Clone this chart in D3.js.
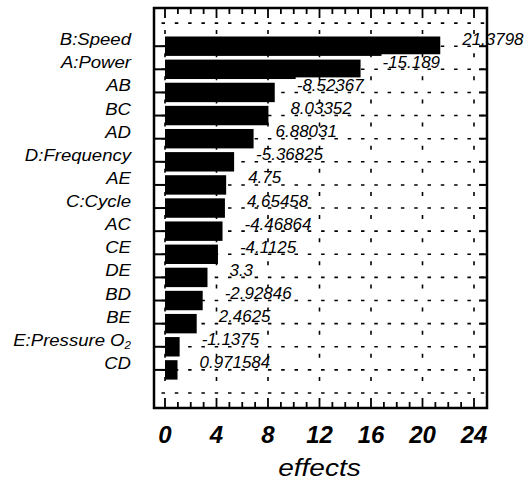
<!DOCTYPE html>
<html>
<head>
<meta charset="utf-8">
<script src="https://cdn.jsdelivr.net/npm/d3@7"></script>
<style>
  body { margin: 0; background: #fff; }
  text { font-family: Arial, "Liberation Sans", sans-serif; }
</style>
</head>
<body>
<div id="chart"></div>
<script>
// factors, top to bottom, and their standardized effects
var factors = ["B:Speed", "A:Power", "AB", "BC", "AD", "D:Frequency", "AE", "C:Cycle",
               "AC", "CE", "DE", "BD", "BE", "E:Pressure O₂", "CD"];
var effects = [21.3798, -15.189, -8.52367, 8.03352, 6.88031, -5.36825, 4.75, 4.65458,
               -4.46864, -4.1125, 3.3, -2.92846, 2.4625, -1.1375, 0.971584];
var xTicks = [0, 4, 8, 12, 16, 20, 24];
var xTitle = "effects";

var width = 528,
    height = 483,
    frame = {left: 154, right: 487, top: 8, bottom: 408};

var svg = d3.select("#chart").append("svg")
    .attr("width", width)
    .attr("height", height);

var x = d3.scaleLinear()
    .domain([0, 24])
    .range([165, 474]);

var y = d3.scalePoint()
    .domain(factors)
    .range([46.2, 369.9]);

var step = y.step(),
    barH = step * 0.84,
    yTop = y(factors[0]) - step,
    yBot = y(factors[factors.length - 1]) + step;

// stretched text helper (the original figure is wider than its fonts)
function label(g, px, py, sx, str) {
  return g.append("g")
      .attr("transform", "translate(" + px + "," + py + ") scale(" + sx + ",1)")
    .append("text")
      .text(str);
}

// bars
svg.append("g").selectAll("rect")
    .data(factors)
  .enter().append("rect")
    .attr("x", x(0))
    .attr("y", function(d) { return y(d) - barH / 2; })
    .attr("width", function(d, i) { return x(Math.abs(effects[i])) - x(0); })
    .attr("height", barH)
    .attr("fill", "#000");

// value labels with white boxes
var vals = svg.append("g");
factors.forEach(function(d, i) {
  var t = label(vals, x(Math.abs(effects[i])) + 22, y(d) - 1.5, 1.06, String(effects[i]))
      .attr("font-size", 16)
      .attr("font-style", "italic");
  var bb = t.node().getBBox();
  d3.select(t.node().parentNode).insert("rect", "text")
      .attr("x", bb.x - 1)
      .attr("y", bb.y + 1)
      .attr("width", bb.width + 2)
      .attr("height", bb.height - 1)
      .attr("fill", "#fff");
});

// dashed grid
var grid = svg.append("g")
    .attr("stroke", "#000")
    .attr("stroke-width", 1.6)
    .attr("fill", "none");

grid.selectAll(".h")
    .data([yTop].concat(factors.map(function(d) { return y(d); }), [yBot]))
  .enter().append("line")
    .attr("x1", frame.left)
    .attr("x2", frame.right)
    .attr("y1", function(d) { return d; })
    .attr("y2", function(d) { return d; })
    .attr("stroke-dasharray", "3.5,9.8")
    .attr("stroke-dashoffset", -7.5);

grid.selectAll(".v")
    .data(xTicks)
  .enter().append("line")
    .attr("x1", function(d) { return x(d); })
    .attr("x2", function(d) { return x(d); })
    .attr("y1", yTop)
    .attr("y2", yBot)
    .attr("stroke-dasharray", "4," + (step - 4))
    .attr("stroke-dashoffset", -7);

// frame and inward ticks
var axes = svg.append("g")
    .attr("stroke", "#000")
    .attr("fill", "none");

axes.append("rect")
    .attr("x", frame.left)
    .attr("y", frame.top)
    .attr("width", frame.right - frame.left)
    .attr("height", frame.bottom - frame.top)
    .attr("stroke-width", 2.5);

var minor = d3.range(0, 25, 1);
axes.selectAll(".tt")
    .data(minor)
  .enter().append("line")
    .attr("x1", function(d) { return x(d); })
    .attr("x2", function(d) { return x(d); })
    .attr("y1", frame.top)
    .attr("y2", function(d) { return frame.top + (d % 4 === 0 ? 10 : 6); })
    .attr("stroke-width", 1.8);

axes.selectAll(".tb")
    .data(minor)
  .enter().append("line")
    .attr("x1", function(d) { return x(d); })
    .attr("x2", function(d) { return x(d); })
    .attr("y1", frame.bottom)
    .attr("y2", function(d) { return frame.bottom - (d % 4 === 0 ? 10 : 6); })
    .attr("stroke-width", 1.8);

axes.selectAll(".tl")
    .data(factors)
  .enter().append("line")
    .attr("x1", frame.left)
    .attr("x2", x(0))
    .attr("y1", function(d) { return y(d); })
    .attr("y2", function(d) { return y(d); })
    .attr("stroke-width", 2);

axes.selectAll(".tr")
    .data(factors)
  .enter().append("line")
    .attr("x1", frame.right)
    .attr("x2", frame.right - 8)
    .attr("y1", function(d) { return y(d); })
    .attr("y2", function(d) { return y(d); })
    .attr("stroke-width", 2);

// category labels
var cats = svg.append("g");
factors.forEach(function(d) {
  var t = label(cats, 131, y(d) - 1, 1.16, d.replace("₂", ""))
      .attr("font-size", 16)
      .attr("font-style", "italic")
      .attr("text-anchor", "end");
  if (d.indexOf("₂") >= 0) {
    t.append("tspan")
        .attr("font-size", 10)
        .attr("dy", 3)
        .text("2");
  }
});

// x tick labels
svg.append("g").selectAll("text")
    .data(xTicks)
  .enter().append("text")
    .attr("x", function(d) { return x(d); })
    .attr("y", 443)
    .attr("text-anchor", "middle")
    .attr("font-size", 24)
    .attr("font-weight", "bold")
    .attr("font-style", "italic")
    .text(function(d) { return d; });

label(svg, (x(0) + x(24)) / 2, 476, 1.17, xTitle)
    .attr("font-size", 24)
    .attr("font-style", "italic")
    .attr("text-anchor", "middle");
</script>
</body>
</html>
